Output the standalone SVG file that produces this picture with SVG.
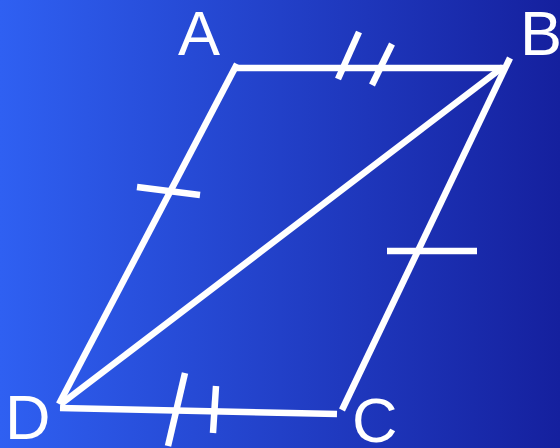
<svg xmlns="http://www.w3.org/2000/svg" width="560" height="448" viewBox="0 0 560 448">
<defs>
<linearGradient id="bg" x1="0" y1="0" x2="1" y2="0">
<stop offset="0" stop-color="#2f60f2"/>
<stop offset="1" stop-color="#15209e"/>
</linearGradient>
<style>
.e{stroke:#fff;stroke-width:6.5;fill:none;stroke-linecap:butt}
.t{fill:#fff;font-family:"Liberation Sans",Arial,sans-serif;font-size:63px}
</style>
</defs>
<rect width="560" height="448" fill="url(#bg)"/>
<g id="connectors">
<line class="e" x1="233" y1="68" x2="503" y2="68"/>
<line class="e" x1="237" y1="64" x2="59" y2="404"/>
<line class="e" x1="503" y1="67" x2="61" y2="404"/>
<line class="e" x1="510" y1="58" x2="342" y2="410"/>
<line class="e" x1="60" y1="408" x2="337" y2="414"/>
<line class="e" x1="359" y1="32" x2="338" y2="79"/>
<line class="e" x1="392" y1="44" x2="372" y2="85"/>
<line class="e" x1="185" y1="373" x2="168" y2="446"/>
<line class="e" x1="216" y1="386" x2="213" y2="433"/>
<line class="e" x1="137" y1="187" x2="200" y2="195"/>
<line class="e" x1="387" y1="251" x2="477" y2="251"/>
</g>
<g id="A"><text class="t" x="178" y="55">A</text></g>
<g id="B"><text class="t" x="520" y="55">B</text></g>
<g id="D"><text class="t" x="5" y="439">D</text></g>
<g id="C"><text class="t" x="352" y="442">C</text></g>
</svg>
